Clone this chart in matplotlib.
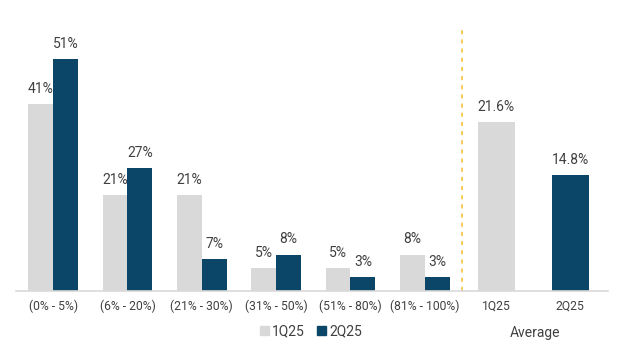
import matplotlib
matplotlib.use('Agg')
import matplotlib.pyplot as plt
from matplotlib.patches import Patch
import numpy as np

plt.rcParams['font.family'] = ['Roboto', 'DejaVu Sans']

ranges = ['(0% - 5%)', '(6% - 20%)', '(21% - 30%)', '(31% - 50%)', '(51% - 80%)', '(81% - 100%)']
q1 = [41, 21, 21, 5, 5, 8]
q2 = [51, 27, 7, 8, 3, 3]
avg_labels = ['1Q25', '2Q25']
avg_values = [21.6, 14.8]

gray = '#d9d9d9'
navy = '#0b4669'
txt = '#404040'
W, H = 628, 350

fig = plt.figure(figsize=(6.28, 3.5), dpi=100)
ax1 = fig.add_axes([16 / W, 59 / H, 446 / W, 263 / H])
ax2 = fig.add_axes([462 / W, 59 / H, 146 / W, 263 / H])

x = np.arange(len(ranges))
w = 0.335
b1 = ax1.bar(x - w / 2, q1, w, color=gray)
b2 = ax1.bar(x + w / 2, q2, w, color=navy)
for bars, vals in ((b1, q1), (b2, q2)):
    for r, v in zip(bars, vals):
        ax1.annotate(f'{v}%', (r.get_x() + r.get_width() / 2, v), xytext=(0, 6),
                     textcoords='offset points', ha='center', va='bottom',
                     fontsize=10, color=txt)
ax1.set_xlim(-0.5, 5.5)
ax1.set_ylim(0, 57.8)
ax1.set_xticks(x)
ax1.set_xticklabels(ranges)
ax1.axvline(5.5, color='#f5c242', lw=1.2, ls=(0, (2.5, 3)), clip_on=False)

xa = np.arange(len(avg_labels))
b3 = ax2.bar(xa, avg_values, 0.5, color=[gray, navy])
for r, v in zip(b3, avg_values):
    ax2.annotate(f'{v}%', (r.get_x() + r.get_width() / 2, v), xytext=(0, 6),
                 textcoords='offset points', ha='center', va='bottom',
                 fontsize=10, color=txt)
ax2.set_xlim(-0.46, 1.51)
ax2.set_ylim(0, 33.6)
ax2.set_xticks(xa)
ax2.set_xticklabels(avg_labels)
ax2.text(0.5, -0.16, 'Average', transform=ax2.transAxes, ha='center', va='center',
         fontsize=10, color=txt)

for ax in (ax1, ax2):
    for s in ax.spines.values():
        s.set_visible(False)
    ax.axhline(0, color=gray, lw=1.2, clip_on=False)
    ax.set_yticks([])
    ax.tick_params(axis='x', length=0, pad=6, labelsize=8.7, labelcolor=txt)
    ax.set_facecolor('none')

handles = [Patch(color=gray, label='1Q25'), Patch(color=navy, label='2Q25')]
leg = fig.legend(handles=handles, loc='center', bbox_to_anchor=(311 / W, 1 - 331 / H), ncol=2,
                 frameon=False, handlelength=0.6, handleheight=0.6, handletextpad=0.25,
                 columnspacing=0.9, fontsize=10)
for t in leg.get_texts():
    t.set_color(txt)

fig.savefig('out.png', dpi=100)
